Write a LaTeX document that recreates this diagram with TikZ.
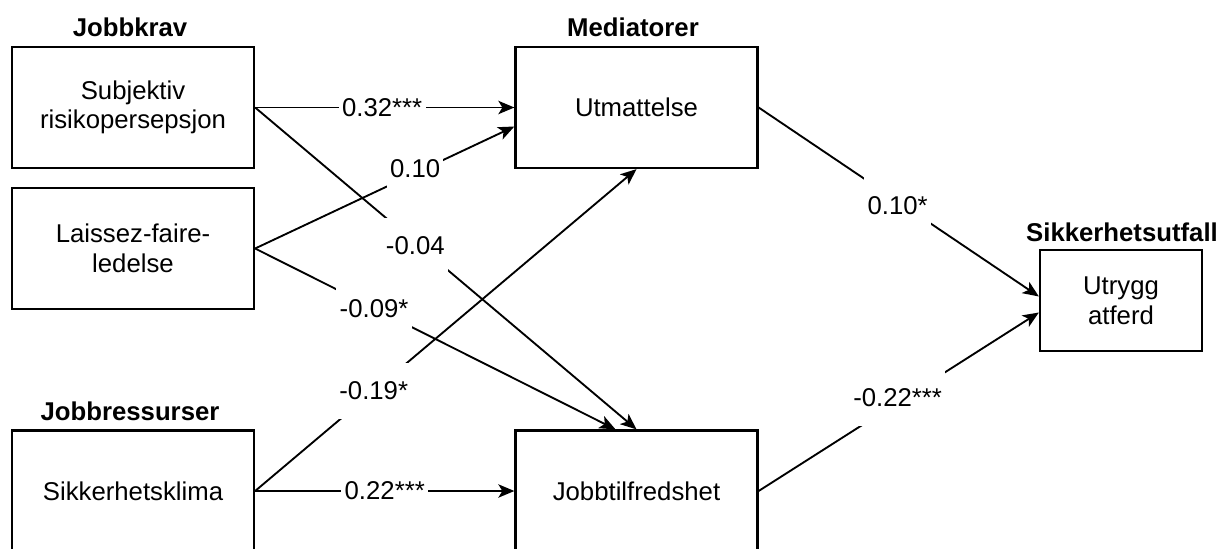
\documentclass[tikz,border=0pt]{standalone}
\usepackage{fontspec}
\setmainfont{Liberation Sans}
\usetikzlibrary{arrows.meta,calc}
\tikzset{
  box/.style={draw, line width=1.7pt, inner sep=0pt, minimum width=181.5pt, minimum height=90.75pt, align=center, font=\fontsize{19.3}{22.2}\selectfont},
  obox/.style={box, minimum width=121.5pt, minimum height=75.75pt},
  ttl/.style={font=\fontsize{19.3}{22.2}\selectfont\bfseries, inner sep=0pt},
  conn/.style={line width=1.4pt, -{Stealth[length=12pt,width=10pt,inset=3pt]}},
  lbl/.style={fill=white, inner xsep=2.5pt, inner ysep=14pt, font=\fontsize{19.3}{22.2}\selectfont}
}
\begin{document}
\begin{tikzpicture}[x=0.75pt,y=-0.75pt]
\useasboundingbox (0,0) rectangle (1220,549);
\clip (0,0) rectangle (1220,549);
% boxes
\node[box] (s1) at (133,107.5) {Subjektiv\\risikopersepsjon};
\node[box] (s2) at (133,248.5) {Laissez-faire-\\ledelse};
\node[box] (s3) at (133,491) {Sikkerhetsklima};
\node[box] (m1) at (636.5,107.5) {Utmattelse};
\node[box] (m2) at (636.5,491) {Jobbtilfredshet};
\node[obox] (o) at (1121,300.5) {Utrygg\\atferd};
% titles
\node[ttl] (t1) at (130,27) {Jobbkrav};
\node[ttl] (t2) at (633,27) {Mediatorer};
\node[ttl] (t3) at (130,411) {Jobbressurser};
\node[ttl] (t4) at (1122,232) {Sikkerhetsutfall};
% target points
\coordinate (m1a) at ($(m1.west)+(0,19)$);
\coordinate (m2a) at ($(m2.north)+(-21,0)$);
\coordinate (oa) at ($(o.west)+(0,-4)$);
\coordinate (ob) at ($(o.west)+(0,12)$);
% connectors
\draw[conn] (s1.east) -- (m1.west) node[lbl, pos=0.49, inner ysep=4pt] (l1) {0.32***};
\draw[conn] (s2.east) -- (m1a) node[lbl, pos=0.617, yshift=3.5pt] (l2) {0.10};
\draw[conn] (s1.east) -- (m2.north) node[lbl, pos=0.42, yshift=-2.5pt] (l3) {-0.04};
\draw[conn] (s2.east) -- (m2a) node[lbl, pos=0.33] (l4) {-0.09*};
\draw[conn] (s3.east) -- (m1.south) node[lbl, pos=0.311] (l5) {-0.19*};
\draw[conn] (s3.east) -- (m2.west) node[lbl, pos=0.5, inner ysep=4pt] (l6) {0.22***};
\draw[conn] (m1.east) -- (oa) node[lbl, pos=0.496, yshift=-3pt] (l7) {0.10*};
\draw[conn] (m2.east) -- (ob) node[lbl, pos=0.496, yshift=3.5pt] (l8) {-0.22***};
\end{tikzpicture}
\end{document}
